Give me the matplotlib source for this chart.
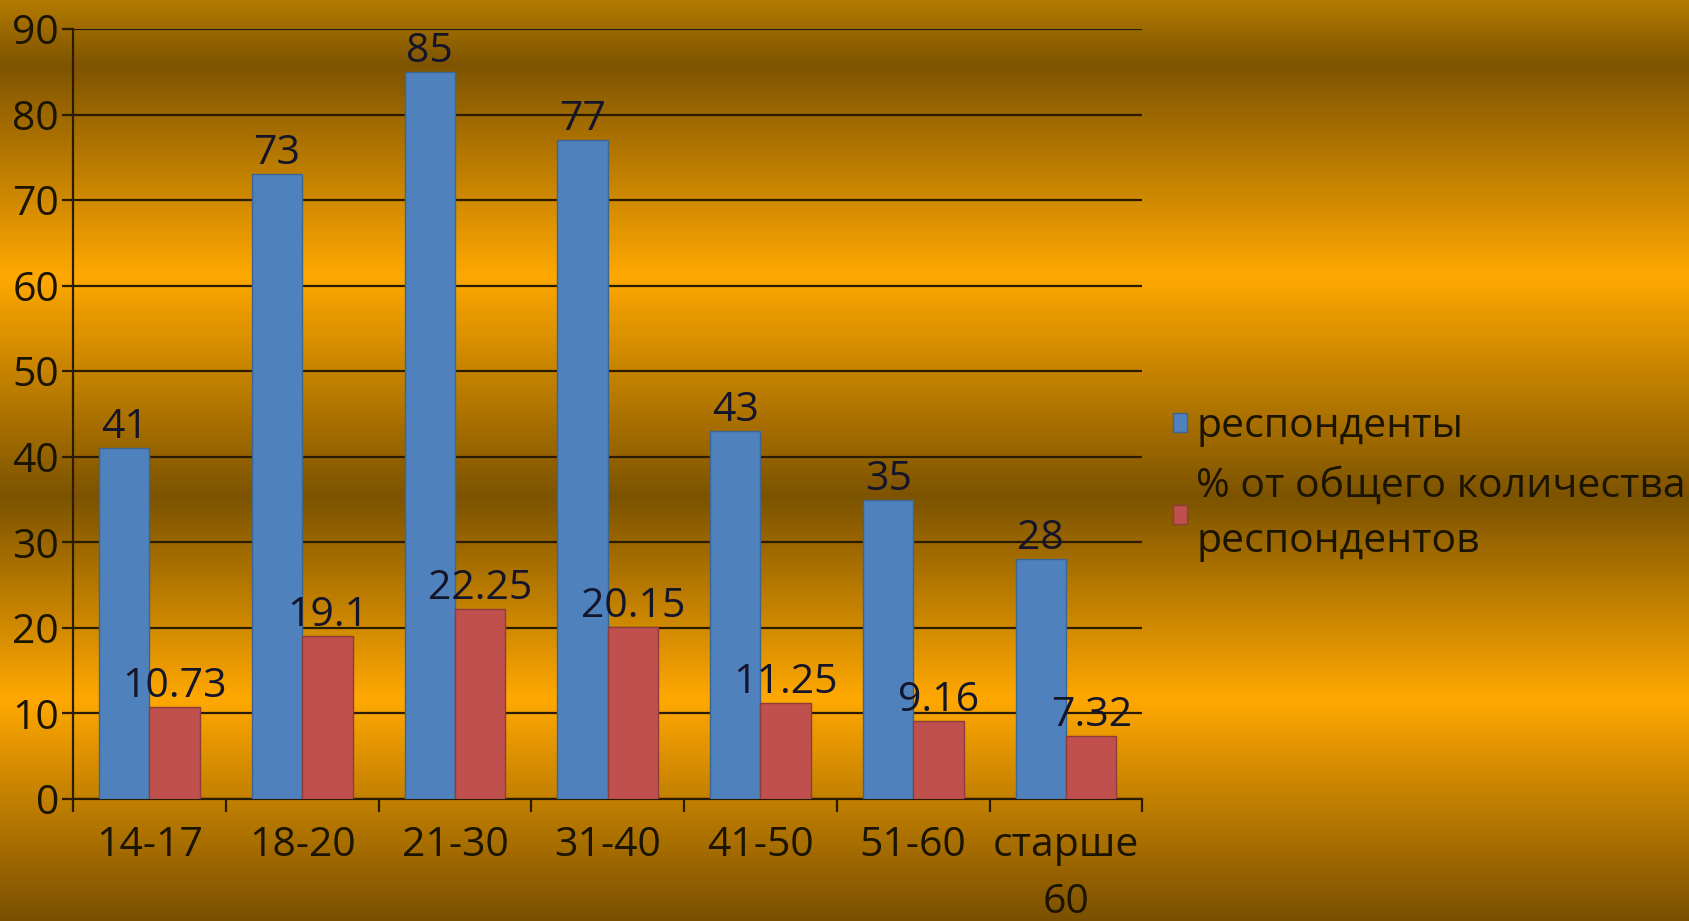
import numpy as np
import matplotlib.pyplot as plt
from matplotlib.colors import LinearSegmentedColormap

# data
categories = ['14-17', '18-20', '21-30', '31-40', '41-50', '51-60', 'старше\n60']
respondents = [41, 73, 85, 77, 43, 35, 28]
percent = [10.73, 19.1, 22.25, 20.15, 11.25, 9.16, 7.32]
percent_labels = ['10.73', '19.1', '22.25', '20.15', '11.25', '9.16', '7.32']
series_names = ['респонденты', '% от общего количества\nреспондентов']

plt.rcParams['font.family'] = ['Open Sans', 'DejaVu Sans']

fig = plt.figure(figsize=(16.9, 9.21), dpi=100)

# background gradient (golden bands)
bg = fig.add_axes([0, 0, 1, 1], zorder=-10)
stops = [(0.0, '#b47b00'), (0.07, '#7e5400'), (0.30, '#ffa800'),
         (0.54, '#7c5300'), (0.76, '#ffa800'), (1.0, '#7a5000')]
cmap = LinearSegmentedColormap.from_list('gold', stops)
grad = np.linspace(0, 1, 512).reshape(-1, 1)
bg.imshow(grad, aspect='auto', cmap=cmap, extent=[0, 1, 0, 1], origin='upper')
bg.axis('off')

ax = fig.add_axes([0.0432, 0.1325, 0.6328, 0.836])
ax.patch.set_alpha(0)

x = np.arange(len(categories))
w = 0.33
b1 = ax.bar(x - w / 2, respondents, w, color='#4f81bd', edgecolor='#3d6591',
            linewidth=1, zorder=3, label=series_names[0])
b2 = ax.bar(x + w / 2, percent, w, color='#c0504d', edgecolor='#8e3c39',
            linewidth=1, zorder=3, label=series_names[1])

fs = 29.5
lab_color = '#15152a'
for i in range(len(x)):
    ax.annotate(str(respondents[i]), (x[i] - w / 2, respondents[i]),
                xytext=(0, 0), textcoords='offset points', ha='center',
                va='bottom', fontsize=fs, color=lab_color)
    ax.annotate(percent_labels[i], (x[i] + w / 2, percent[i]),
                xytext=(0, 0), textcoords='offset points', ha='center',
                va='bottom', fontsize=fs, color=lab_color)

ax.set_xlim(-0.5, 6.5)
ax.set_ylim(0, 90)
ax.set_yticks(range(0, 91, 10))
ax.yaxis.grid(True, color='#2a1c00', linewidth=1.6, zorder=0)
ax.set_axisbelow(True)

ax.set_xticks(x)
ax.set_xticklabels(categories, linespacing=1.55)
ax.set_xticks(np.arange(-0.5, 7, 1), minor=True)
ax.tick_params(axis='x', which='major', length=0, pad=19, labelsize=fs,
               labelcolor='#1a1400')
ax.tick_params(axis='x', which='minor', length=9, width=1.6, color='#2a1c00')
ax.tick_params(axis='y', length=8, width=1.6, color='#2a1c00', labelsize=fs,
               labelcolor='#1a1400', pad=2)

for s in ['top', 'right']:
    ax.spines[s].set_visible(False)
for s in ['left', 'bottom']:
    ax.spines[s].set_color('#2a1c00')
    ax.spines[s].set_linewidth(1.6)

leg = fig.legend(handles=[b1, b2], loc='center left',
                 bbox_to_anchor=(0.682, 0.474), frameon=False, fontsize=fs,
                 handlelength=0.35, handleheight=0.35, handletextpad=0.22,
                 labelspacing=0.45, borderpad=0)
for t in leg.get_texts():
    t.set_color('#1a1400')
    t.set_linespacing(1.5)

fig.savefig('out.png', dpi=100)
